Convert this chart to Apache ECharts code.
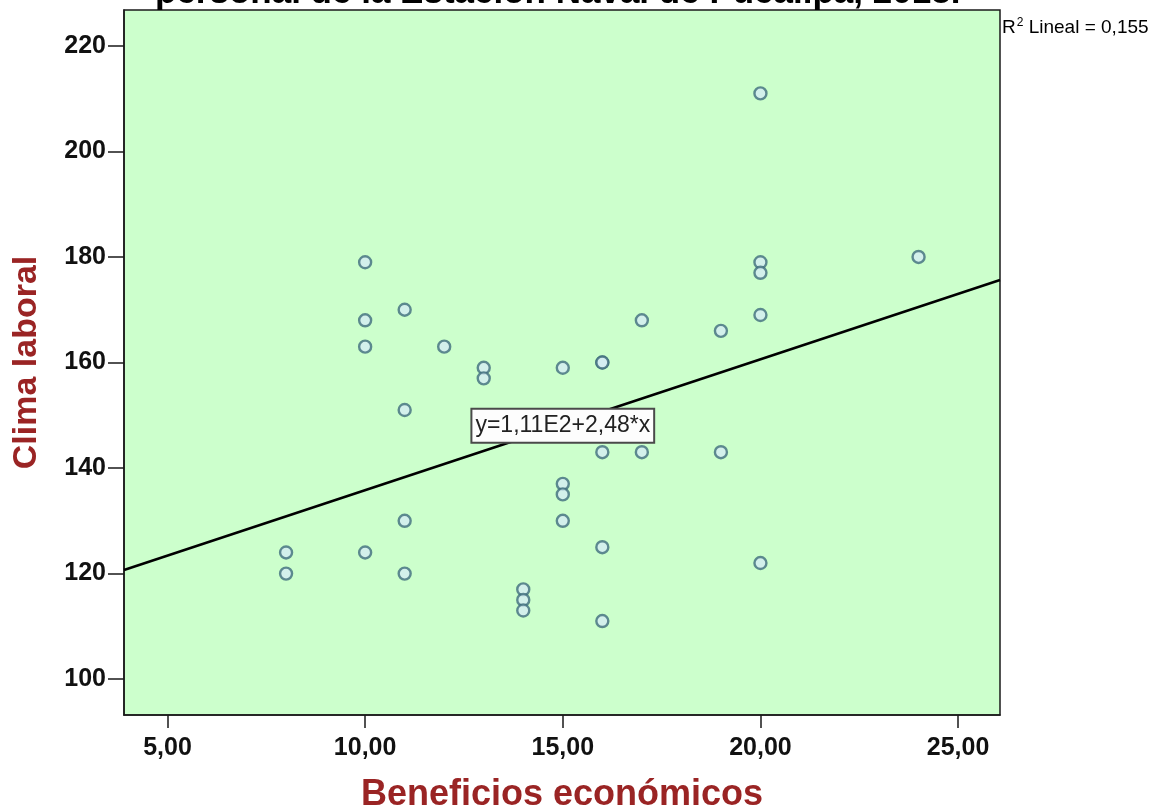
<!DOCTYPE html>
<html>
<head>
<meta charset="utf-8">
<script src="https://cdn.jsdelivr.net/npm/echarts@6/dist/echarts.min.js"></script>
<style>
html,body{margin:0;padding:0;background:#fff;}
#chart{width:1171px;height:810px;}
</style>
</head>
<body>
<div id="chart"></div>
<script>
// Data
const beneficios = [20,10,24,20,20,11,10,17,20,19,10,12,16,16,13,13,15,11,16,17,19,15,15,15,11,16,8,10,8,11,20,14,14,14,16];
const clima      = [211,179,180,179,177,170,168,168,169,166,163,163,160,160,159,157,159,151,143,143,143,137,135,130,130,125,124,124,120,120,122,117,115,113,111];
const xTicks = [5,10,15,20,25];
const yTicks = [100,120,140,160,180,200,220];
const fitIntercept = 111;
const fitSlope = 2.48;
const fitLabel = 'y=1,11E2+2,48*x';
const titleText = 'personal de la Estación Naval de Pucallpa, 2018.';
const xName = 'Beneficios económicos';
const yName = 'Clima laboral';
const xRange = [3.9, 26.06];
const yRange = [93.2, 226.8];

const FONT = 'Liberation Sans, Arial, sans-serif';
const points = beneficios.map((x, i) => [x, clima[i]]);
const fitLine = xRange.map(x => [x, fitIntercept + fitSlope * x]);
const labelPos = [15, 148];

const chart = echarts.init(document.getElementById('chart'));
chart.setOption({
  animation: false,
  backgroundColor: '#ffffff',
  title: {
    text: titleText,
    left: 150,
    top: -29,
    textStyle: {fontFamily: FONT, fontSize: 35, fontWeight: 'bold', color: '#000'}
  },
  grid: {
    left: 124, right: 171, top: 10, bottom: 95,
    outerBoundsMode: 'none',
    show: true, backgroundColor: '#ccffcc', borderColor: '#1a1a1a', borderWidth: 1.5
  },
  xAxis: {
    type: 'value', min: xRange[0], max: xRange[1],
    name: xName, nameLocation: 'middle', nameGap: 62,
    nameTextStyle: {fontFamily: FONT, fontSize: 36, fontWeight: 'bold', color: '#9a2424'},
    splitLine: {show: false},
    axisLine: {show: true, lineStyle: {color: '#1a1a1a', width: 1.5}},
    axisTick: {show: true, length: 13, customValues: xTicks, lineStyle: {color: '#1a1a1a', width: 1.5}},
    axisLabel: {
      customValues: xTicks, margin: 21,
      fontFamily: FONT, fontSize: 25, fontWeight: 'bold', color: '#111',
      formatter: v => v.toFixed(2).replace('.', ',')
    }
  },
  yAxis: {
    type: 'value', min: yRange[0], max: yRange[1],
    name: yName, nameLocation: 'middle', nameGap: 80,
    nameTextStyle: {fontFamily: FONT, fontSize: 34, fontWeight: 'bold', color: '#9a2424'},
    splitLine: {show: false},
    axisLine: {show: true, lineStyle: {color: '#1a1a1a', width: 1.5}},
    axisTick: {show: true, length: 16, customValues: yTicks, lineStyle: {color: '#1a1a1a', width: 1.5}},
    axisLabel: {
      customValues: yTicks, margin: 18,
      fontFamily: FONT, fontSize: 25, fontWeight: 'bold', color: '#111'
    }
  },
  graphic: [{
    type: 'text', left: 1002, top: 17,
    style: {
      text: '{r|R}{s|2}{r| Lineal = 0,155}',
      rich: {
        r: {fontFamily: FONT, fontSize: 19, color: '#111', lineHeight: 22},
        s: {fontFamily: FONT, fontSize: 12, color: '#111', lineHeight: 22, padding: [0, 0, 10, 1]}
      }
    }
  }],
  series: [
    {
      type: 'line',
      data: fitLine,
      symbol: 'none',
      lineStyle: {color: '#000', width: 2.5},
      z: 2,
      markPoint: {
        symbol: 'rect', symbolSize: 0,
        data: [{coord: labelPos, value: fitLabel}],
        label: {
          show: true, position: 'inside',
          formatter: fitLabel,
          fontFamily: FONT, fontSize: 23, color: '#222',
          backgroundColor: '#fdfdfd', borderColor: '#4a4a4a', borderWidth: 2,
          padding: [5, 3, 4, 3]
        }
      }
    },
    {
      type: 'scatter',
      data: points,
      symbol: 'circle', symbolSize: 12,
      itemStyle: {color: '#d4ecf2', borderColor: '#3f6d7c', borderWidth: 2.4},
      z: 3
    }
  ]
});
</script>
</body>
</html>
